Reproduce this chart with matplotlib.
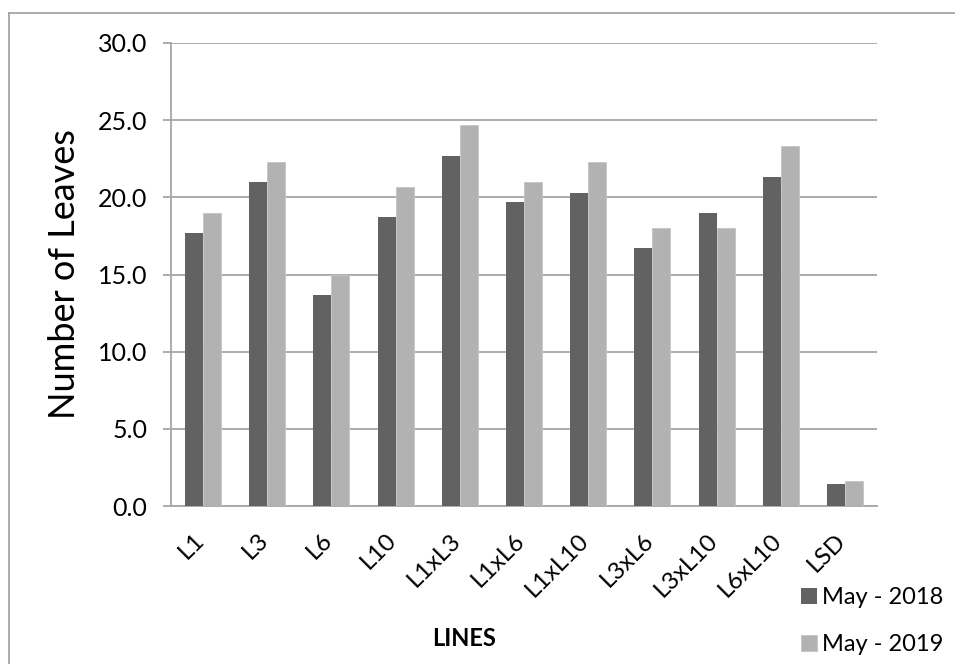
import matplotlib.pyplot as plt
import matplotlib.lines as mlines
import matplotlib.transforms as mtransforms
import numpy as np

# Leaf counts per line, two seasons
lines = ['L1', 'L3', 'L6', 'L10', 'L1xL3', 'L1xL6', 'L1xL10', 'L3xL6', 'L3xL10', 'L6xL10', 'LSD']
may_2018 = [17.7, 21.0, 13.7, 18.7, 22.7, 19.7, 20.3, 16.7, 19.0, 21.3, 1.45]
may_2019 = [19.0, 22.3, 15.0, 20.7, 24.7, 21.0, 22.3, 18.0, 18.0, 23.3, 1.6]
y_ticks = [0, 5, 10, 15, 20, 25, 30]

plt.rcParams['font.family'] = ['Lato', 'DejaVu Sans']

W, H = 955, 664
fig = plt.figure(figsize=(W / 100, H / 100), dpi=100)
ax = fig.add_axes([171 / W, 1 - 506 / H, 706 / W, 463 / H])

x = np.arange(len(lines))
bw = 0.28
ax.bar(x - bw / 2, may_2018, bw, color='#626262', label='May - 2018', zorder=3)
ax.bar(x + bw / 2, may_2019, bw, color='#b2b2b2', edgecolor='#c4c4c4', linewidth=0.6,
       label='May - 2019', zorder=3)

ax.set_xlim(-0.5, len(lines) - 0.5)
ax.set_ylim(0, 30)
ax.set_yticks(y_ticks)
ax.set_yticklabels([f'{v:.1f}' for v in y_ticks], fontsize=18)
ax.yaxis.grid(True, color='#a6a6a6', linewidth=1.3, zorder=0)
ax.tick_params(axis='y', length=6, width=1.3, color='#a6a6a6', pad=11)

ax.set_xticks(x)
ax.set_xticklabels(lines, rotation=45, ha='right', va='top', fontsize=17.5)
ax.tick_params(axis='x', length=0, pad=17)
# nudge the rotated labels a little to the right of each category centre
shift = mtransforms.ScaledTranslation(5 / 100, 0, fig.dpi_scale_trans)
for lbl in ax.get_xticklabels():
    lbl.set_transform(lbl.get_transform() + shift)

for side in ['top', 'right']:
    ax.spines[side].set_visible(False)
for side in ['left', 'bottom']:
    ax.spines[side].set_color('#a6a6a6')
    ax.spines[side].set_linewidth(1.3)

ax.set_ylabel('Number of Leaves', fontsize=26)
ax.yaxis.set_label_coords(-90 / 706, 0.5)
fig.text(464 / W, 1 - 638 / H, 'LINES', fontsize=17, fontweight='bold',
         ha='center', va='center')

fig.legend(loc='upper left', bbox_to_anchor=(792 / W, 1 - 578 / H), frameon=False,
           fontsize=17, handlelength=0.65, handleheight=0.65, handletextpad=0.2,
           labelspacing=1.1, borderaxespad=0)

# outer chart border (runs off the right and bottom edges)
fig.add_artist(mlines.Line2D([9 / W, 9 / W], [0, 1 - 13 / H], color='#a6a6a6', lw=1.3))
fig.add_artist(mlines.Line2D([9 / W, 1], [1 - 13 / H, 1 - 13 / H], color='#a6a6a6', lw=1.3))

fig.savefig('out.png', dpi=100)
